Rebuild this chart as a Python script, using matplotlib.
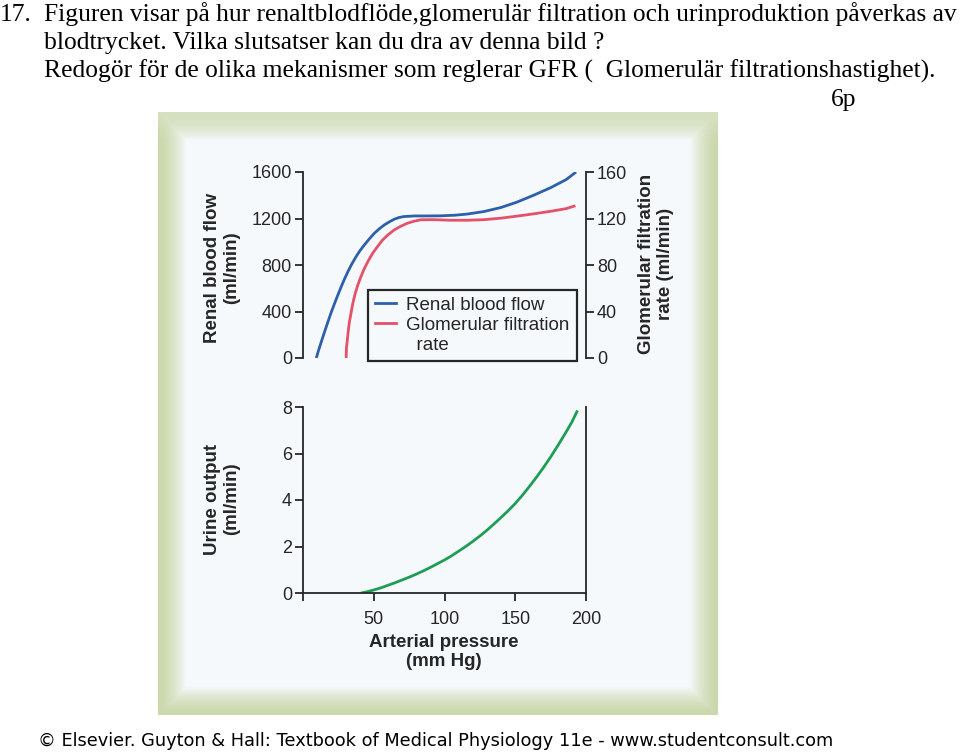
import matplotlib
matplotlib.use("Agg")
import matplotlib.pyplot as plt
import numpy as np
from matplotlib.lines import Line2D

# arterial pressure (mm Hg) vs renal blood flow (ml/min)
rbf_pressure = [9.4, 11.0, 12.9, 15.2, 17.6, 19.9, 22.3, 24.6, 27, 29.3, 31.7, 34.5,
                37.5, 40.3, 43.4, 46.9, 50.4, 53.9, 57.5, 61, 64.5, 68, 71.5, 79,
                88, 97, 107, 116, 128, 140, 151, 163, 175, 186, 193]
rbf_values = [0, 66, 138, 224, 311, 391, 469, 541, 613, 679, 742, 809,
              872, 924, 973, 1025, 1073, 1111, 1145, 1171, 1194, 1209, 1217, 1222,
              1222, 1223, 1228, 1238, 1260, 1295, 1340, 1400, 1465, 1535, 1600]

# glomerular filtration rate (ml/min)
gfr_pressure = [30.5, 30.7, 31.2, 31.9, 32.8, 34, 35.2, 36.8, 38.7, 41, 43.4, 46.2,
                49.2, 52.8, 56.3, 60.3, 64.5, 69.2, 73.9, 78.6, 83.2, 93, 104, 116,
                128, 140, 151, 163, 175, 186, 192.5]
gfr_values = [0, 9, 13.8, 22.4, 31.1, 39.1, 46.9, 55, 62.7, 70.2, 77.1, 83.7,
              90.1, 96.1, 101.6, 106.2, 110.2, 113.4, 116, 117.7, 118.9, 119, 118.5, 118.5,
              119, 120.3, 122, 124, 126.2, 128.5, 131]

# urine output (ml/min)
urine_pressure = [41, 45, 50, 55, 60, 65, 70, 75, 80, 85, 90, 95, 100, 105, 110, 115,
                  120, 125, 130, 135, 140, 145, 150, 155, 160, 165, 170, 175, 180,
                  185, 190, 194]
urine_values = [0, 0.05, 0.13, 0.22, 0.33, 0.44, 0.56, 0.68, 0.81, 0.95, 1.1, 1.26,
                1.42, 1.6, 1.8, 2.0, 2.22, 2.45, 2.7, 2.97, 3.25, 3.54, 3.85, 4.2,
                4.58, 4.98, 5.4, 5.85, 6.33, 6.83, 7.35, 7.85]

rbf_ticks = [0, 400, 800, 1200, 1600]
gfr_ticks = [0, 40, 80, 120, 160]
urine_ticks = [0, 2, 4, 6, 8]
pressure_ticks = [0, 50, 100, 150, 200]
pressure_labels = ["", "50", "100", "150", "200"]

title_lines = [
    "Figuren visar på hur renaltblodflöde,glomerulär filtration och urinproduktion påverkas av",
    "blodtrycket. Vilka slutsatser kan du dra av denna bild ?",
    "Redogör för de olika mekanismer som reglerar GFR (  Glomerulär filtrationshastighet).",
]
footer = "© Elsevier. Guyton & Hall: Textbook of Medical Physiology 11e - www.studentconsult.com"

BLUE = "#2c60ab"
RED = "#e5506a"
GREEN = "#1d9d55"
INK = "#262626"
PANEL = "#f6f9fc"

W, H = 960, 752
fig = plt.figure(figsize=(W / 100, H / 100), dpi=100)
fig.patch.set_facecolor("white")


def fx(px):
    return px / W


def fy(py):
    return 1 - py / H


# green bevelled frame behind the figure
fl, ft, fr, fb = 158, 112, 718, 715
frame_ax = fig.add_axes([fx(fl), fy(fb), fx(fr - fl), (fb - ft) / H], zorder=0)
fw, fh = fr - fl, fb - ft
xx, yy = np.meshgrid(np.arange(fw), np.arange(fh))
dist = np.minimum(np.minimum(xx, fw - 1 - xx), np.minimum(yy, fh - 1 - yy))
t = np.clip(dist / 28.0, 0, 1) ** 1.6
green_edge = np.array([203, 216, 172]) / 255
panel = np.array([246, 249, 252]) / 255
img = green_edge[None, None, :] * (1 - t[..., None]) + panel[None, None, :] * t[..., None]
# top edge a little lighter
top_fade = np.clip(yy / 28.0, 0, 1)[..., None]
img = img * (0.75 + 0.25 * top_fade) + panel * (0.25 - 0.25 * top_fade)
frame_ax.imshow(np.clip(img, 0, 1), aspect="auto", interpolation="bilinear")
frame_ax.axis("off")

plt.rcParams["font.family"] = ["Liberation Sans", "DejaVu Sans"]
TICK_FS = 13
LABEL_FS = 13.5


def style_ticks(ax):
    ax.tick_params(direction="out", length=6, width=1.3, colors=INK,
                   labelsize=TICK_FS, pad=2)


# top chart: renal blood flow + GFR
ax1 = fig.add_axes([fx(303), fy(358), fx(586 - 303), (358 - 172) / H], zorder=2)
ax1.patch.set_alpha(0)
ax1.plot(rbf_pressure, rbf_values, color=BLUE, lw=2.0, solid_capstyle="butt")
ax1.set_xlim(0, 200)
ax1.set_ylim(0, 1600)
ax1.set_yticks(rbf_ticks)
ax1.set_xticks([])
for s in ["top", "bottom", "right"]:
    ax1.spines[s].set_visible(False)
ax1.spines["left"].set_linewidth(1.3)
ax1.spines["left"].set_color(INK)
style_ticks(ax1)

ax2 = ax1.twinx()
ax2.plot(gfr_pressure, gfr_values, color=RED, lw=2.0, solid_capstyle="butt")
ax2.set_ylim(0, 160)
ax2.set_yticks(gfr_ticks)
for s in ["top", "bottom", "left"]:
    ax2.spines[s].set_visible(False)
ax2.spines["right"].set_linewidth(1.3)
ax2.spines["right"].set_color(INK)
style_ticks(ax2)

handles = [Line2D([], [], color=BLUE, lw=2.0),
           Line2D([], [], color=RED, lw=2.0),
           Line2D([], [], color="none")]
leg = ax2.legend(handles, ["Renal blood flow", "Glomerular filtration", "  rate"],
                 loc="lower right", bbox_to_anchor=(fx(577), fy(361)),
                 bbox_transform=fig.transFigure, fontsize=13.5,
                 handlelength=1.15, handletextpad=0.55, labelspacing=0.15,
                 borderpad=0.38, borderaxespad=0, fancybox=False,
                 framealpha=1, facecolor=PANEL, edgecolor=INK)
leg.get_frame().set_linewidth(1.6)
for txt in leg.get_texts():
    txt.set_color(INK)

# bottom chart: urine output
ax3 = fig.add_axes([fx(303), fy(593), fx(586 - 303), (593 - 407) / H], zorder=2)
ax3.patch.set_alpha(0)
ax3.plot(urine_pressure, urine_values, color=GREEN, lw=2.0, solid_capstyle="butt")
ax3.set_xlim(0, 200)
ax3.set_ylim(0, 8)
ax3.set_yticks(urine_ticks)
ax3.set_xticks(pressure_ticks)
ax3.set_xticklabels(pressure_labels)
ax3.spines["top"].set_visible(False)
for s in ["left", "bottom", "right"]:
    ax3.spines[s].set_linewidth(1.3)
    ax3.spines[s].set_color(INK)
style_ticks(ax3)
ax3.tick_params(axis="x", pad=7)

# axis titles
lab = dict(fontsize=LABEL_FS, fontweight="bold", color=INK, ha="center",
           va="center", multialignment="center", linespacing=1.1)
fig.text(fx(222), fy(268), "Renal blood flow\n(ml/min)", rotation=90, **lab)
fig.text(fx(656), fy(264), "Glomerular filtration\nrate (ml/min)", rotation=90, **lab)
fig.text(fx(222), fy(499), "Urine output\n(ml/min)", rotation=90, **lab)
fig.text(fx(444), fy(652), "Arterial pressure\n(mm Hg)", **lab)

# question text
serif = dict(family=["Liberation Serif", "DejaVu Serif"], fontsize=18.4,
             color="black", va="baseline", ha="left")
fig.text(fx(0), fy(21), "17.", **serif)
for i, line in enumerate(title_lines):
    fig.text(fx(44), fy(21 + 28.5 * i), line, **serif)
fig.text(fx(831), fy(106), "6p", **serif)

fig.text(fx(38), fy(746), footer, family="DejaVu Sans", fontsize=12.8,
         color="black", va="baseline", ha="left")

fig.savefig("out.png", dpi=100)
